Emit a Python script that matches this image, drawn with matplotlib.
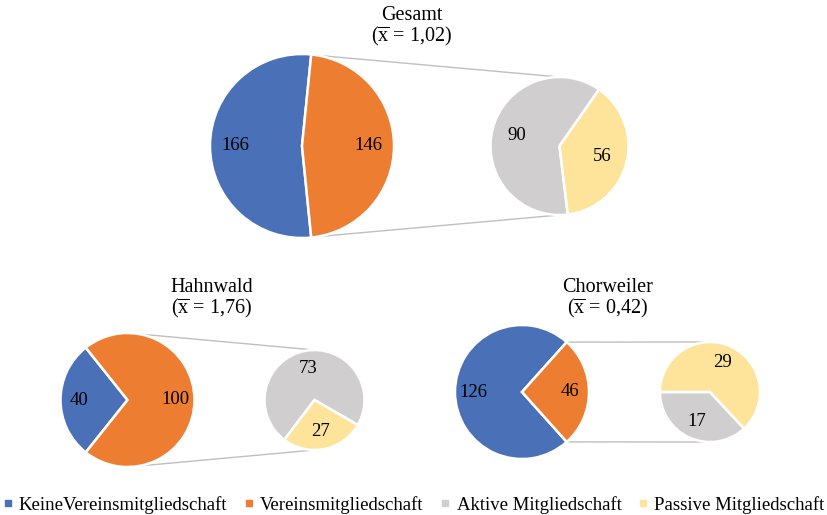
import matplotlib
matplotlib.use("Agg")
import matplotlib.pyplot as plt
from matplotlib.lines import Line2D
import numpy as np

plt.rcParams['font.family'] = ['Liberation Serif', 'DejaVu Serif']
plt.rcParams['mathtext.fontset'] = 'custom'
plt.rcParams['mathtext.rm'] = 'Liberation Serif'

# data
groups = ['Gesamt', 'Hahnwald', 'Chorweiler']
means = ['1,02', '1,76', '0,42']
keine = [166, 40, 126]          # KeineVereinsmitgliedschaft
verein = [146, 100, 46]         # Vereinsmitgliedschaft
aktiv = [90, 73, 17]            # Aktive Mitgliedschaft
passiv = [56, 27, 29]           # Passive Mitgliedschaft
legend_labels = ['KeineVereinsmitgliedschaft', 'Vereinsmitgliedschaft',
                 'Aktive Mitgliedschaft', 'Passive Mitgliedschaft']
colors = ['#4A70B8', '#ED7D31', '#D0CECE', '#FEE49A']

# layout (pixel positions, y measured from top)
W, H = 828, 515
main_pos = [(302, 146, 92), (127.5, 400, 67), (522, 392, 67)]
sub_pos = [(559.5, 146, 69), (314.5, 400, 50), (710, 392, 50)]
sub_start = [55, -30, 180]
title_pos = [(412, 15), (212, 287), (608, 287)]

fig = plt.figure(figsize=(W / 100, H / 100), dpi=100)
ax = fig.add_axes([0, 0, 1, 1])


def flip(y):
    return H - y


for i in range(3):
    mx, my, mr = main_pos[i]
    sx, sy, sr = sub_pos[i]
    vals = [keine[i], verein[i]]
    start = 180 - 180.0 * keine[i] / sum(vals)
    wedges, texts = ax.pie(vals, colors=colors[:2], center=(mx, flip(my)), radius=mr,
                           startangle=start, counterclock=True,
                           labels=[str(v) for v in vals], labeldistance=0.72,
                           wedgeprops=dict(edgecolor='white', linewidth=1.8))
    for t in texts:
        t.set_ha('center'); t.set_va('center'); t.set_fontsize(13.5)

    svals = [aktiv[i], passiv[i]]
    w2, t2 = ax.pie(svals, colors=colors[2:], center=(sx, flip(sy)), radius=sr,
                    startangle=sub_start[i], counterclock=True,
                    labels=[str(v) for v in svals], labeldistance=0.64,
                    wedgeprops=dict(edgecolor='white', linewidth=1.8))
    for t in t2:
        t.set_ha('center'); t.set_va('center'); t.set_fontsize(13.5)

    # connector lines from the split slice to the secondary pie
    half = (wedges[1].theta2 - wedges[1].theta1) / 2.0
    ang = np.radians(min(half, 80))
    px = mx + mr * np.cos(ang)
    ax.plot([px, sx], [flip(my) + mr * np.sin(ang), flip(sy) + sr],
            color='#BFBFBF', lw=1.0, zorder=0)
    ax.plot([px, sx], [flip(my) - mr * np.sin(ang), flip(sy) - sr],
            color='#BFBFBF', lw=1.0, zorder=0)

    tx, ty = title_pos[i]
    ax.text(tx, flip(ty), groups[i], ha='center', va='center', fontsize=14.5)
    ax.text(tx, flip(ty + 21), r'($\overline{\mathrm{x}}$ = ' + means[i] + ')',
            ha='center', va='center', fontsize=14.5)

ax.set_xlim(0, W)
ax.set_ylim(0, H)
ax.set_aspect('equal')
ax.axis('off')

handles = [Line2D([], [], marker='s', linestyle='', markersize=4.5, color=c) for c in colors]
fig.legend(handles, legend_labels, loc='center left', bbox_to_anchor=(3 / W, 1 - 505 / H),
           ncol=4, frameon=False, fontsize=13.5, handlelength=0.5, handletextpad=0.35,
           columnspacing=0.9, borderaxespad=0, borderpad=0)

plt.savefig('out.png', dpi=100)
